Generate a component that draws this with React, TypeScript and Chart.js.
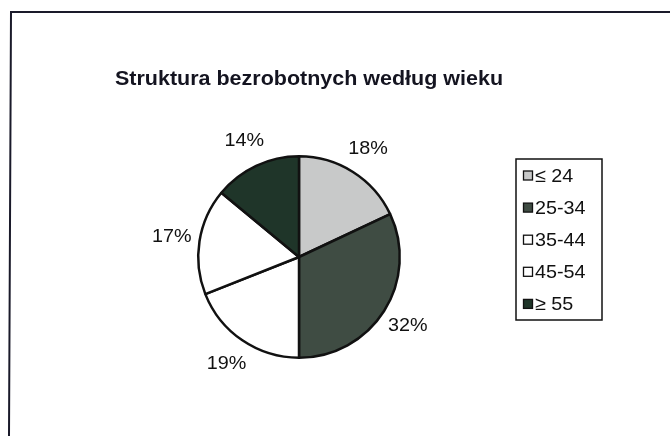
import React, { useEffect, useRef } from "react";
import { Chart, registerables } from "chart.js";

Chart.register(...registerables);

const TITLE = "Struktura bezrobotnych według wieku";
const CATEGORIES = ["≤ 24", "25-34", "35-44", "45-54", "≥ 55"];
const VALUES = [18, 32, 19, 17, 14];
const COLORS = ["#c8c9c9", "#3f4c43", "#ffffff", "#ffffff", "#1f3529"];

const FONT = "'Liberation Sans', Arial, sans-serif";
const STRETCH = 1.04;

function stretchedText(ctx: any, text: string, x: number, y: number, align: string, sx: number) {
  const w = ctx.measureText(text).width * sx;
  let left = x;
  if (align === "center") left = x - w / 2;
  ctx.save();
  ctx.translate(left, y);
  ctx.scale(sx, 1);
  ctx.textAlign = "left";
  ctx.fillText(text, 0, 0);
  ctx.restore();
}

const decorPlugin = {
  id: "decor",
  afterDraw(chart: any) {
    const ctx = chart.ctx;
    ctx.save();
    // frame
    ctx.strokeStyle = "#1a1a2a";
    ctx.lineWidth = 2;
    ctx.beginPath();
    ctx.moveTo(670, 12);
    ctx.lineTo(11, 12);
    ctx.lineTo(9, 436);
    ctx.stroke();
    // title
    ctx.fillStyle = "#141420";
    ctx.font = `bold 20.5px ${FONT}`;
    ctx.textBaseline = "alphabetic";
    const tw = ctx.measureText(TITLE).width;
    stretchedText(ctx, TITLE, 115, 85, "left", 388 / tw);
    // percent labels
    const meta = chart.getDatasetMeta(0);
    const total = VALUES.reduce((a, b) => a + b, 0);
    ctx.font = `19px ${FONT}`;
    ctx.textBaseline = "middle";
    ctx.fillStyle = "#111111";
    meta.data.forEach((arc: any, i: number) => {
      const mid = (arc.startAngle + arc.endAngle) / 2;
      const r = arc.outerRadius + 28;
      const x = arc.x + Math.cos(mid) * r;
      const y = arc.y + Math.sin(mid) * r;
      stretchedText(ctx, Math.round((VALUES[i] / total) * 100) + "%", x, y, "center", STRETCH);
    });
    // legend
    const lx = 516, ly = 159, lw = 86, lh = 161;
    ctx.lineWidth = 1.5;
    ctx.strokeStyle = "#111111";
    ctx.fillStyle = "#ffffff";
    ctx.fillRect(lx, ly, lw, lh);
    ctx.strokeRect(lx, ly, lw, lh);
    ctx.textBaseline = "middle";
    CATEGORIES.forEach((c, i) => {
      const cy = 175.5 + i * 32.1;
      ctx.fillStyle = COLORS[i];
      ctx.fillRect(523.5, cy - 4.5, 9, 9);
      ctx.lineWidth = 1.3;
      ctx.strokeStyle = "#111111";
      ctx.strokeRect(523.5, cy - 4.5, 9, 9);
      ctx.fillStyle = "#111111";
      stretchedText(ctx, c, 535, cy + 1, "left", STRETCH);
    });
    ctx.restore();
  },
};

export default function App() {
  const ref = useRef<HTMLCanvasElement>(null);
  useEffect(() => {
    document.body.style.margin = "0";
    const chart = new Chart(ref.current!, {
      type: "pie",
      data: {
        labels: CATEGORIES,
        datasets: [
          {
            data: VALUES,
            backgroundColor: COLORS,
            borderColor: "#111111",
            borderWidth: 2.5,
          },
        ],
      },
      options: {
        responsive: false,
        animation: false,
        layout: { padding: { left: 197, right: 269, top: 155, bottom: 77 } },
        plugins: { legend: { display: false }, tooltip: { enabled: false }, title: { display: false } },
      },
      plugins: [decorPlugin],
    });
    return () => chart.destroy();
  }, []);
  return (
    <div style={{ width: 670, height: 436, background: "#fff" }}>
      <canvas ref={ref} width={670} height={436} />
    </div>
  );
}
